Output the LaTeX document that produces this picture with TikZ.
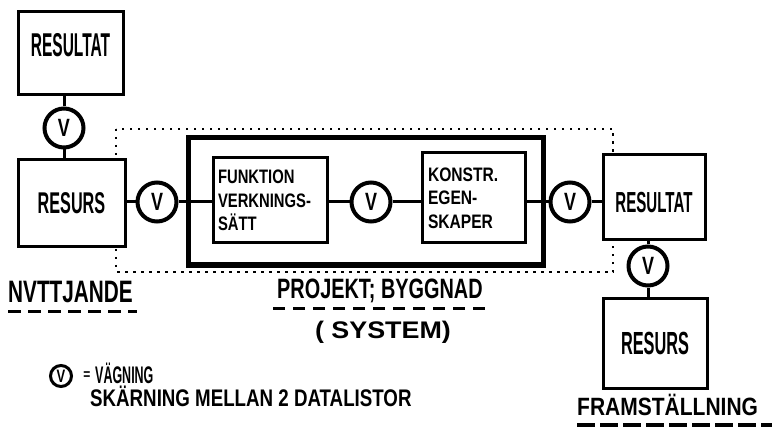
\documentclass[tikz,border=0pt]{standalone}
\usepackage{fontspec}
\setmainfont{Liberation Sans}
\newcommand\hf[3]{\fontspec[FakeStretch=#1]{Liberation Sans}\bfseries\fontsize{#2}{#3}\selectfont}
\begin{document}
\begin{tikzpicture}[x=1pt,y=-1pt,
  box/.style={draw, line width=3pt, fill=white, inner sep=0pt, rectangle},
  bigbox/.style={draw, line width=5pt, fill=white, inner sep=0pt, rectangle},
  vcirc/.style={draw, circle, line width=4pt, fill=white, minimum size=39pt, inner sep=0pt, font=\hf{0.72}{25}{25}},
  conn/.style={line width=3pt},
  dots/.style={line width=2.5pt, dash pattern=on 2.5pt off 5.5pt},
  uline/.style={line width=3pt, dash pattern=on 13pt off 7pt},
  smalltxt/.style={align=left},
  label/.style={inner sep=0pt}
]
\useasboundingbox (0,0) rectangle (775,427);
\fill[white] (0,0) rectangle (775,427);

% dotted system boundary
\draw[dots] (116,129) rectangle (613,272);

% project box
\node[bigbox, minimum width=355pt, minimum height=127pt] (big) at (365.5,201.5) {};

% left side
\node[box, font=\hf{0.47}{33}{33}, minimum width=105pt, minimum height=83pt, text depth=17pt] (res1) at (70.5,53.5) {RESULTAT};
\node[vcirc] (v1) at (64,128) {V};
\node[box, font=\hf{0.54}{30}{30}, minimum width=107pt, minimum height=87pt] (rsrc1) at (71.5,203.5) {RESURS};
\node[vcirc] (v2) at (157,202) {V};

% inside project
\node[box, smalltxt, font=\hf{0.76}{19.5}{23.5}, minimum width=114pt, minimum height=85pt, text width=104pt] (funk) at (270,200.5) {FUNKTION\\VERKNINGS-\\SÄTT};
\node[vcirc] (v3) at (371,202) {V};
\node[box, smalltxt, font=\hf{0.8}{19.5}{23.5}, minimum width=103pt, minimum height=90pt, text width=91pt] (konstr) at (473.5,198) {KONSTR.\\EGEN-\\SKAPER};

% right side
\node[vcirc] (v4) at (570,202) {V};
\node[box, font=\hf{0.52}{29}{29}, minimum width=102pt, minimum height=85pt, text height=30pt] (res2) at (654,197.5) {RESULTAT};
\node[vcirc] (v5) at (648,266) {V};
\node[box, font=\hf{0.51}{32}{32}, minimum width=104pt, minimum height=90pt] (rsrc2) at (655,343) {RESURS};

% connectors
\draw[conn] (v1.north) -- (v1.north |- res1.south);
\draw[conn] (v1.south) -- (v1.south |- rsrc1.north);
\draw[conn] (v2.west -| rsrc1.east) -- (v2.west);
\draw[conn] (v2.east) -- (v2.east -| funk.west);
\draw[conn] (v3.west -| funk.east) -- (v3.west);
\draw[conn] (v3.east) -- (v3.east -| konstr.west);
\draw[conn] (v4.west -| konstr.east) -- (v4.west);
\draw[conn] (v4.east) -- (v4.east -| res2.west);
\draw[conn] (v5.north) -- (v5.north |- res2.south);
\draw[conn] (v5.south) -- (v5.south |- rsrc2.north);

% labels
\node[label, font=\hf{0.67}{31}{31}, anchor=base west] (nyt) at (8,302) {NVTTJANDE};
\coordinate (nytA) at (8,311);
\coordinate (nytB) at (137,311);
\draw[uline] (nytA) -- (nytB);

\node[label, font=\hf{0.71}{28}{28}, anchor=base west] (proj) at (277,298) {PROJEKT; BYGGNAD};
\coordinate (projA) at (273,308);
\coordinate (projB) at (492,308);
\draw[uline, dash pattern=on 12pt off 8pt] (projA) -- (projB);

\node[label, font=\hf{1.12}{24}{24}] (sys) at (383,332) {( SYSTEM)};

\node[label, font=\hf{0.84}{25}{25}, anchor=base west] (fram) at (577,415) {FRAMSTÄLLNING};
\coordinate (framA) at (577,425);
\coordinate (framB) at (772,425);
\draw[line width=4pt, dash pattern=on 18pt off 5pt] (framA) -- (framB);

% legend
\node[draw, circle, line width=3pt, minimum size=21pt, inner sep=0pt, font=\hf{0.72}{18}{18}] (vleg) at (61,376) {V};
\node[label, font=\hf{0.8}{15}{15}] (eq) at (87,376) {=};
\node[label, font=\hf{0.52}{24}{24}, anchor=base west] (vag) at (95,383) {VÄGNING};
\node[label, font=\hf{0.78}{24}{24}, anchor=base west] (skar) at (90,406) {SKÄRNING MELLAN 2 DATALISTOR};
\end{tikzpicture}
\end{document}
